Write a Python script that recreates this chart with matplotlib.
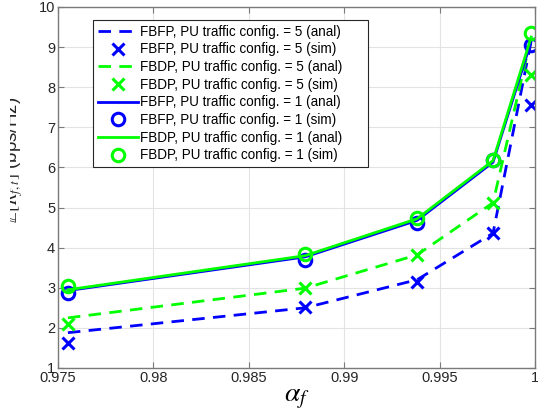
import numpy as np
import matplotlib.pyplot as plt
from matplotlib.transforms import Bbox

plt.rcParams['font.family'] = ['Liberation Sans', 'DejaVu Sans']
plt.rcParams['mathtext.fontset'] = 'stix'

# alpha_f values
alpha_f = [0.97552, 0.98795, 0.99382, 0.99780, 0.99980]

# config 5 (dashed / crosses)
fbfp_5_anal = [1.88, 2.50, 3.20, 4.36, 9.15]
fbfp_5_sim  = [1.62, 2.52, 3.15, 4.36, 7.55]
fbdp_5_anal = [2.25, 2.99, 3.82, 5.12, 9.25]
fbdp_5_sim  = [2.09, 2.99, 3.82, 5.12, 8.30]

# config 1 (solid / circles)
fbfp_1_anal = [2.93, 3.77, 4.68, 6.13, 9.15]
fbfp_1_sim  = [2.88, 3.68, 4.62, 6.18, 9.05]
fbdp_1_anal = [2.95, 3.80, 4.72, 6.17, 9.25]
fbdp_1_sim  = [3.05, 3.84, 4.74, 6.18, 9.35]

labels = ['FBFP, PU traffic config. = 5 (anal)',
          'FBFP, PU traffic config. = 5 (sim)',
          'FBDP, PU traffic config. = 5 (anal)',
          'FBDP, PU traffic config. = 5 (sim)',
          'FBFP, PU traffic config. = 1 (anal)',
          'FBFP, PU traffic config. = 1 (sim)',
          'FBDP, PU traffic config. = 1 (anal)',
          'FBDP, PU traffic config. = 1 (sim)']
# matlab leaves some room on the right of the legend text
pad = '      '

blue = (0, 0, 1)
green = (0, 1, 0)
lw = 2.0

fig = plt.figure(figsize=(5.38, 4.16), dpi=100)
ax = fig.add_axes([0.1078, 0.1154, 0.8866, 0.8678])

ax.plot(alpha_f, fbfp_5_anal, color=blue, lw=lw, dashes=(4.5, 3), label=labels[0] + pad)
ax.plot(alpha_f, fbfp_5_sim, ls='none', marker='x', ms=9, mew=2.2, color=blue, label=labels[1])
ax.plot(alpha_f, fbdp_5_anal, color=green, lw=lw, dashes=(4.5, 3), label=labels[2])
ax.plot(alpha_f, fbdp_5_sim, ls='none', marker='x', ms=9, mew=2.2, color=green, label=labels[3])
ax.plot(alpha_f, fbfp_1_anal, color=blue, lw=lw, label=labels[4])
ax.plot(alpha_f, fbfp_1_sim, ls='none', marker='o', ms=9, mew=2.2, mfc='none', color=blue, label=labels[5])
ax.plot(alpha_f, fbdp_1_anal, color=green, lw=lw, label=labels[6])
ax.plot(alpha_f, fbdp_1_sim, ls='none', marker='o', ms=9, mew=2.2, mfc='none', color=green, label=labels[7])

ax.set_xlim(0.975, 1.0)
ax.set_ylim(1, 10)
ax.set_xticks([0.975, 0.98, 0.985, 0.99, 0.995, 1.0])
ax.set_xticklabels(['0.975', '0.98', '0.985', '0.99', '0.995', '1'])
ax.set_yticks(range(1, 11))

ax.grid(True, color='#e3e3e3', lw=0.8)
ax.set_axisbelow(True)
for s in ax.spines.values():
    s.set_color('#7a7a7a')
    s.set_linewidth(1.0)
ax.tick_params(direction='in', top=True, right=True, length=4, width=0.8,
               color='#7a7a7a', labelcolor='#262626', labelsize=10.5, pad=2)

ax.set_xlabel(r'$\alpha_f$', fontsize=20, labelpad=0)
# the y label is cut on its left side in the original export
ylab = fig.text(25 / 538, 0.615, r'$\mathbb{E}[R_{f,t}]$ (bps/Hz)', rotation=90,
                ha='right', va='center', fontsize=13.5, color='#262626')
ylab.set_clip_box(Bbox([[10, 0], [538, 416]]))
ylab.set_clip_on(True)

leg = ax.legend(loc='upper left', bbox_to_anchor=(0.073, 0.964), borderaxespad=0,
                fontsize=9.75, fancybox=False, framealpha=1, edgecolor='#262626',
                handlelength=3.0, handletextpad=0.15, labelspacing=0.27,
                borderpad=0.35)
leg.get_frame().set_linewidth(0.8)

fig.savefig('out.png', dpi=100)
